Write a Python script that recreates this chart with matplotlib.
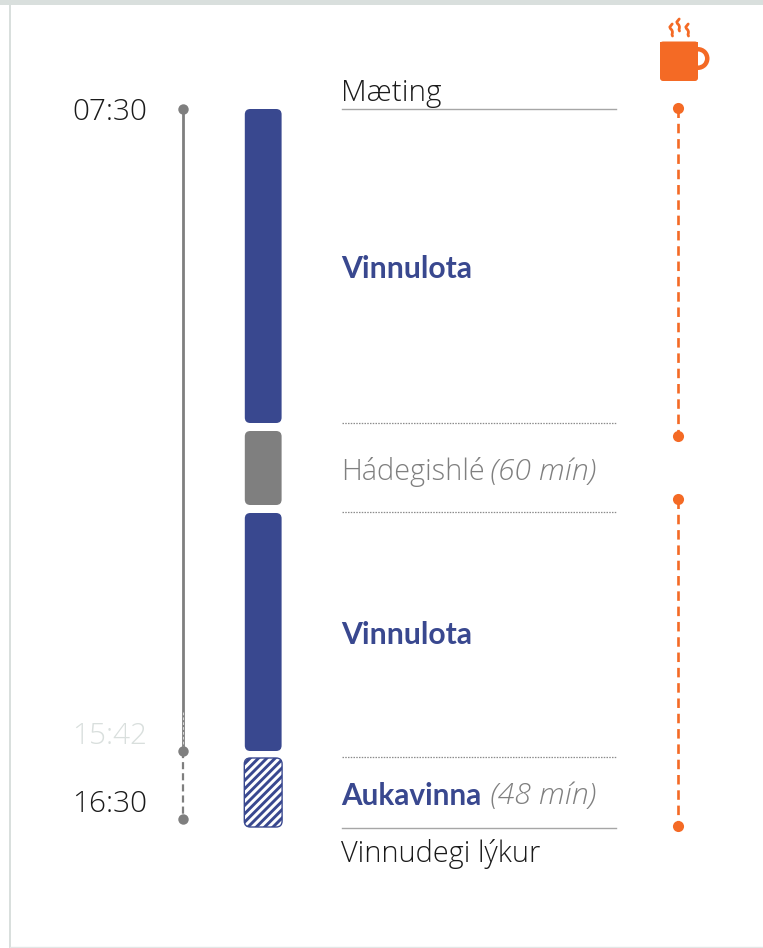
import numpy as np
import matplotlib
matplotlib.use('Agg')
import matplotlib.pyplot as plt
from matplotlib.patches import FancyBboxPatch, Rectangle, Wedge

plt.rcParams['font.family'] = ['Lato', 'DejaVu Sans']
plt.rcParams['hatch.linewidth'] = 2.1
plt.rcParams['hatch.color'] = '#39488f'

BLUE = '#39488f'
GREY = '#7f7f7f'
ORANGE = '#f46a25'
LIGHT = ['Open Sans', 'DejaVu Sans']

# bars, top and bottom on the picture's scale
bar_top = [109, 431, 513, 758]
bar_bottom = [423, 505, 751, 827]
bar_kind = ['work', 'lunch', 'work', 'extra']

# separator lines under the text
rule_y = [108.5, 423.5, 512.5, 757.5, 828]
rule_style = ['solid', 'dotted', 'dotted', 'dotted', 'solid']

# time labels
time_labels = ['07:30', '15:42', '16:30']
time_y = [112, 736, 804]
time_colors = ['#1a1a1a', '#d9dfdd', '#1a1a1a']

# time axis and the orange spans
axis_solid = [109, 751]
axis_dash = [751, 819]
orange_spans = [(108, 436), (499, 826)]

fig = plt.figure(figsize=(7.63, 9.48), dpi=100)
ax = fig.add_axes([0, 0, 1, 1])
ax.set_xlim(0, 763)
ax.set_ylim(948, 0)
ax.axis('off')

# frame
ax.add_patch(Rectangle((0, 0), 763, 4.5, fc='#d9dfdd', ec='none'))
ax.add_patch(Rectangle((8.5, 0), 2.5, 948, fc='#d9dfdd', ec='none'))
ax.plot([10, 763], [947.3, 947.3], color='#e3e7e6', lw=1)

# time axis
ax.plot([182.5, 182.5], axis_solid, color=GREY, lw=2)
ax.plot([182.5, 182.5], axis_dash, color=GREY, lw=1.6, dashes=(3.2, 1.8))
ax.plot([182.5, 182.5], [712, 751], color='white', lw=0.5, dashes=(4, 3))
ax.plot([182.5] * 3, [109, 751, 819], 'o', color=GREY, ms=7.5, mec='none')
for lab, y, c in zip(time_labels, time_y, time_colors):
    ax.text(147, y, lab, ha='right', va='center', fontsize=21.4, color=c,
            family=LIGHT, fontweight='light')

# bars
for top, bottom, kind in zip(bar_top, bar_bottom, bar_kind):
    x0, w, r = 244.8, 36.8, 5
    if kind == 'extra':
        ax.add_patch(FancyBboxPatch((x0 - 0.5, top), w + 1, bottom - top,
                                    boxstyle='round,pad=0,rounding_size=6',
                                    fc='white', ec=BLUE, lw=1, hatch='////'))
    else:
        col = BLUE if kind == 'work' else GREY
        ax.add_patch(FancyBboxPatch((x0 + r, top + r), w - 2 * r, bottom - top - 2 * r,
                                    boxstyle='round,pad=%d,rounding_size=5.5' % r,
                                    fc=col, ec='none'))

# rules
for y, st in zip(rule_y, rule_style):
    if st == 'solid':
        ax.plot([341.5, 615.5], [y, y], color='#a6a6a6', lw=1.0)
    else:
        ax.plot([341.5, 615.5], [y - 0.5, y - 0.5], color='#8c8c8c', lw=0.9, dashes=(1.2, 1.0))

# texts
ax.text(341, 93, 'Mæting', va='center', fontsize=21.4, color='#1a1a1a', family=LIGHT, fontweight='light')
ax.text(341, 269, 'Vinnulota', va='center', fontsize=21.7, color=BLUE, fontweight='bold')
ax.text(341, 472, 'Hádegishlé', va='center', fontsize=20.8, color=GREY, family=LIGHT, fontweight='light')
ax.text(490, 472, '(60 mín)', va='center', fontsize=21.8, color=GREY, style='italic', family=LIGHT, fontweight='light')
ax.text(341, 635, 'Vinnulota', va='center', fontsize=21.7, color=BLUE, fontweight='bold')
ax.text(341, 796, 'Aukavinna', va='center', fontsize=21.4, color=BLUE, fontweight='bold')
ax.text(490, 796, '(48 mín)', va='center', fontsize=21.8, color=GREY, style='italic', family=LIGHT, fontweight='light')
ax.text(341, 854, 'Vinnudegi lýkur', va='center', fontsize=20.8, color='#1a1a1a', family=LIGHT, fontweight='light')

# orange spans
for top, bottom in orange_spans:
    ax.plot([678, 678], [top, bottom], color=ORANGE, lw=1.9, dashes=(3.6, 2.2))
    ax.plot([678, 678], [top, bottom], 'o', color=ORANGE, ms=8, mec='none')

# cup icon
ax.add_patch(Wedge((698, 58.5), 11.5, -90, 90, width=4.5, fc=ORANGE, ec='none'))
ax.add_patch(FancyBboxPatch((663, 44.5), 32, 33.5, boxstyle='round,pad=3,rounding_size=3',
                            fc=ORANGE, ec='none'))
ax.add_patch(Rectangle((660, 41.5), 38, 6, fc=ORANGE, ec='none'))
for sx, sy in zip([671, 678, 687], [24, 19, 24]):
    t = np.array([0, 0.5, 1, 1.5, 2, 2.5, 3, 3.5, 4]) / 4
    wig = np.array([1.2, 0, -1.2, -0.6, 0.8, 1.4, 1.4, 1, 1.5])
    ax.plot(sx + wig, sy + t * 12, color=ORANGE, lw=2.0, solid_capstyle='round')

fig.savefig('out.png', dpi=100)
